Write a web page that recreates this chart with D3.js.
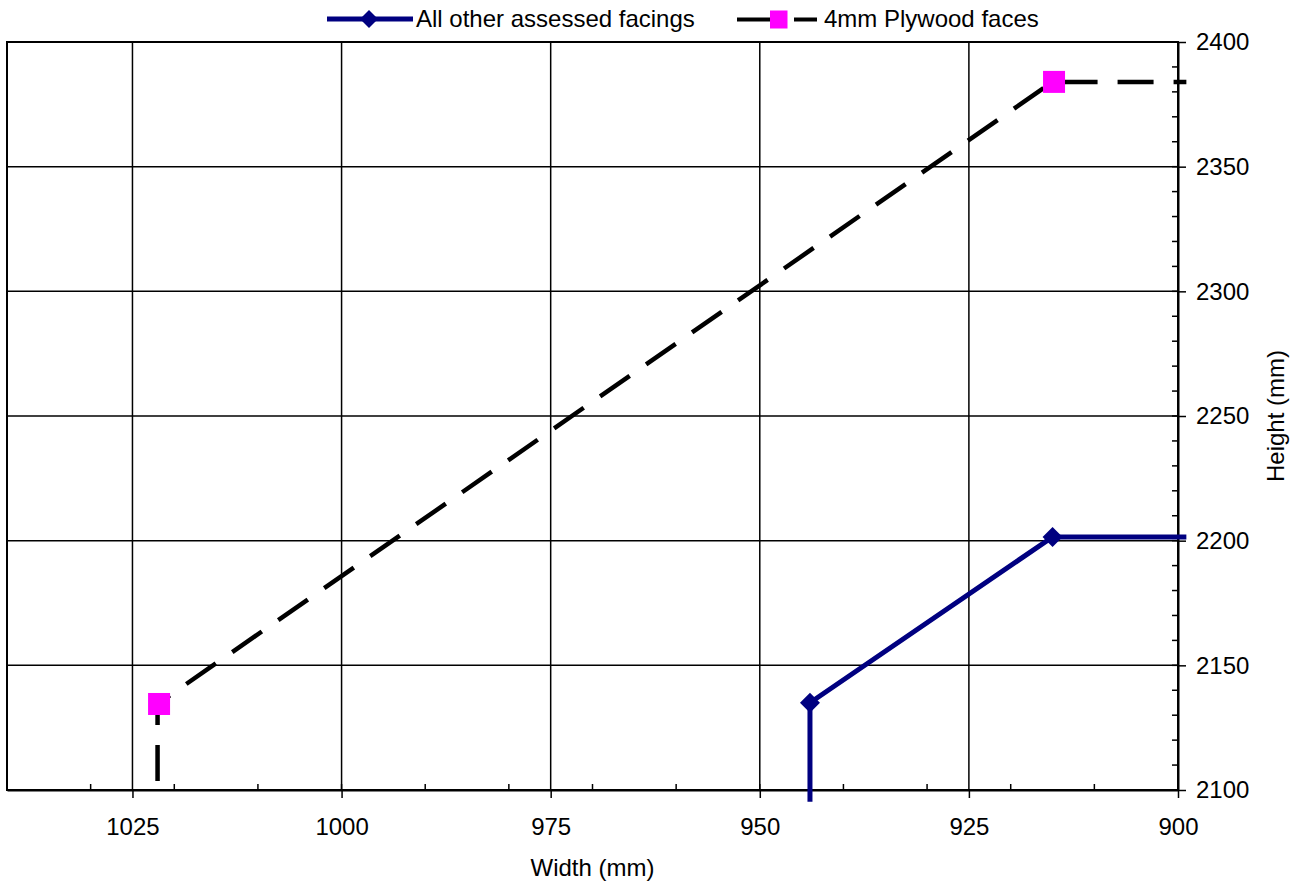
<!DOCTYPE html>
<html><head><meta charset="utf-8">
<script src="https://cdn.jsdelivr.net/npm/d3@7"></script>
<style>body{margin:0;background:#fff}svg{display:block;font-family:"Liberation Sans",Arial,sans-serif}</style>
</head><body><svg id="c" width="1299" height="881"></svg>
<script>
const xTicks = [1025, 1000, 975, 950, 925, 900];
const yTicks = [2100, 2150, 2200, 2250, 2300, 2350, 2400];
const seriesNames = ["All other assessed facings", "4mm Plywood faces"];
const otherX = [944, 944, 915, 899];
const otherY = [2095.3, 2135, 2201.5, 2201.5];
const plyX = [1022, 1022, 915, 899];
const plyY = [2100, 2134.5, 2384, 2384];
const xTitle = "Width (mm)";
const yTitle = "Height (mm)";

const svg = d3.select("#c");
const L = 7, R = 1178, T = 42, B = 790;
const FS = 24;
const x = d3.scaleLinear().domain([1040, 900]).range([L, R]);
const y = d3.scaleLinear().domain([2100, 2400]).range([B, T]);

// gridlines
svg.append("g").selectAll("line").data(xTicks).join("line")
  .attr("x1", d => x(d)).attr("x2", d => x(d)).attr("y1", T).attr("y2", B)
  .attr("stroke", "#000").attr("stroke-width", 1.5);
svg.append("g").selectAll("line").data(yTicks).join("line")
  .attr("x1", L).attr("x2", R).attr("y1", d => y(d)).attr("y2", d => y(d))
  .attr("stroke", "#000").attr("stroke-width", 1.5);
// plot border
svg.append("rect").attr("x", L).attr("y", T).attr("width", R - L).attr("height", B - T)
  .attr("fill", "none").attr("stroke", "#000").attr("stroke-width", 2);

// x axis (bottom)
const xMinor = d3.range(900, 1041, 10);
const xAx = svg.append("g").attr("transform", `translate(0,${B})`)
  .call(d3.axisBottom(x).tickValues(xTicks).tickSize(8).tickSizeOuter(0).tickPadding(20).tickFormat(d3.format("d")));
xAx.select(".domain").attr("stroke-width", 2);
xAx.selectAll(".tick line").attr("stroke-width", 1.5);
xAx.selectAll("text").attr("font-size", FS).attr("fill", "#000");
svg.append("g").selectAll("line").data(xMinor).join("line")
  .attr("x1", d => x(d)).attr("x2", d => x(d)).attr("y1", B).attr("y2", B - 6)
  .attr("stroke", "#000").attr("stroke-width", 1.5);

// y axis (right)
const yMinor = d3.range(2100, 2401, 10);
const yAx = svg.append("g").attr("transform", `translate(${R},0)`)
  .call(d3.axisRight(y).tickValues(yTicks).tickSize(8).tickSizeOuter(0).tickPadding(10).tickFormat(d3.format("d")));
yAx.select(".domain").attr("stroke-width", 2);
yAx.selectAll(".tick line").attr("stroke-width", 1.5);
yAx.selectAll("text").attr("font-size", FS).attr("fill", "#000");
svg.append("g").selectAll("line").data(yMinor).join("line")
  .attr("x1", R).attr("x2", R - 6).attr("y1", d => y(d)).attr("y2", d => y(d))
  .attr("stroke", "#000").attr("stroke-width", 1.5);

// axis titles
svg.append("text").attr("x", (L + R) / 2).attr("y", 876).attr("text-anchor", "middle")
  .attr("font-size", FS).text(xTitle);
svg.append("text").attr("transform", `translate(1284,${(T + B) / 2}) rotate(-90)`)
  .attr("text-anchor", "middle").attr("font-size", FS).text(yTitle);

const line = d3.line().x(d => x(d[0])).y(d => y(d[1]));
const ply = plyX.map((v, i) => [v, plyY[i]]);
const oth = otherX.map((v, i) => [v, otherY[i]]);

// plywood dashed
svg.append("path").attr("d", line(ply)).attr("fill", "none").attr("stroke", "#000")
  .attr("stroke-width", 4.5).attr("stroke-dasharray", "36,20").attr("stroke-dashoffset", 47);
// other solid
svg.append("path").attr("d", line(oth)).attr("fill", "none").attr("stroke", "#000080")
  .attr("stroke-width", 5);

const diamond = (cx, cy, r) => `M${cx},${cy - r}L${cx + r},${cy}L${cx},${cy + r}L${cx - r},${cy}Z`;
svg.append("g").selectAll("path").data(oth.filter((d, i) => i > 0 && i < oth.length - 1)).join("path")
  .attr("d", d => diamond(x(d[0]), y(d[1]), 10)).attr("fill", "#000080");
svg.append("g").selectAll("rect").data(ply.filter((d, i) => i > 0 && i < ply.length - 1)).join("rect")
  .attr("x", d => x(d[0]) + 1.5 - 11).attr("y", d => y(d[1]) - 11).attr("width", 22).attr("height", 22)
  .attr("fill", "#ff00ff");

// legend
const lg = svg.append("g");
lg.append("line").attr("x1", 327).attr("x2", 413).attr("y1", 19).attr("y2", 19)
  .attr("stroke", "#000080").attr("stroke-width", 5);
lg.append("path").attr("d", diamond(369, 19, 9)).attr("fill", "#000080");
lg.append("text").attr("x", 416).attr("y", 27).attr("font-size", FS).text(seriesNames[0]);
lg.append("line").attr("x1", 737).attr("x2", 817).attr("y1", 19.5).attr("y2", 19.5)
  .attr("stroke", "#000").attr("stroke-width", 4).attr("stroke-dasharray", "33,24");
lg.append("rect").attr("x", 770).attr("y", 10.5).attr("width", 17.5).attr("height", 18).attr("fill", "#ff00ff");
lg.append("text").attr("x", 824).attr("y", 27).attr("font-size", FS).text(seriesNames[1]);
</script></body></html>
